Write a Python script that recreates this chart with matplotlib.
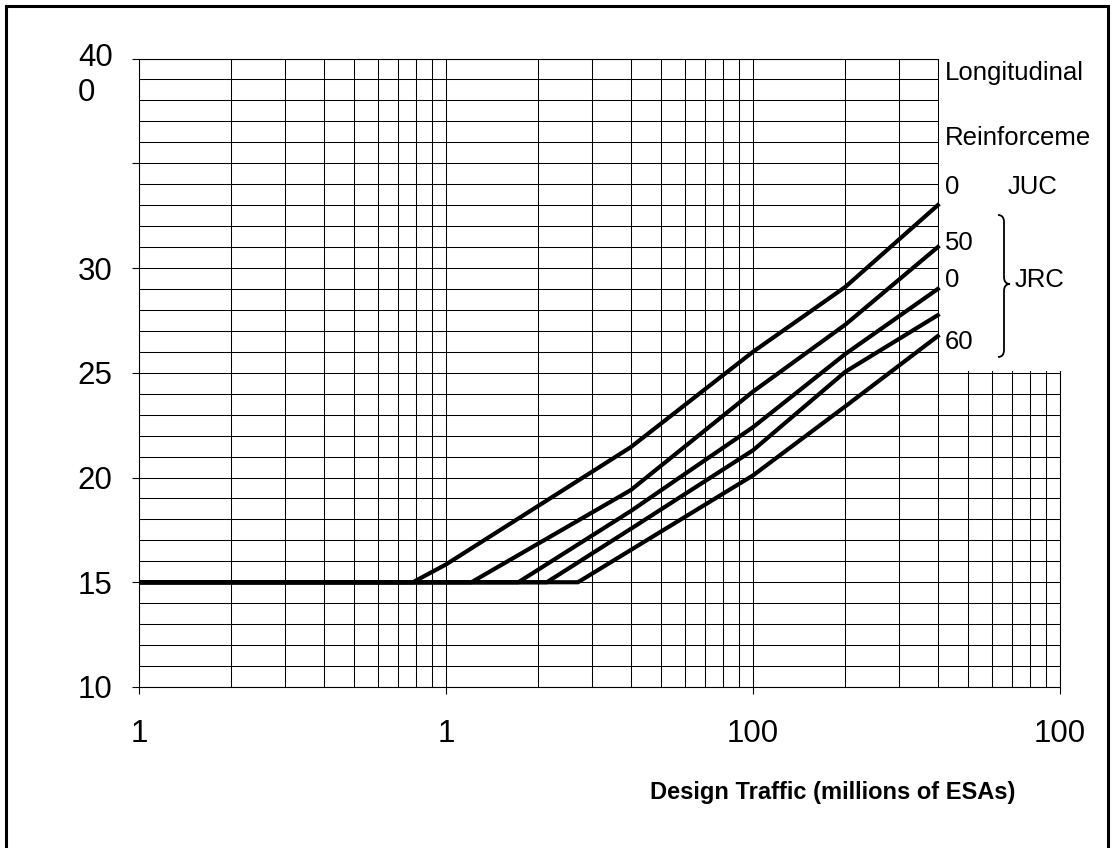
import matplotlib
matplotlib.use("Agg")
from matplotlib import pyplot as plt
from matplotlib.patches import Rectangle, PathPatch
from matplotlib.path import Path
from matplotlib.ticker import FixedLocator, MultipleLocator, NullFormatter
import matplotlib.transforms as mtransforms

plt.rcParams['font.family'] = ['Liberation Sans', 'DejaVu Sans']

# design traffic (millions of ESAs) vs base thickness, one curve per reinforcement
traffic_juc = [1, 7.8, 10, 40, 100, 200, 400]
thick_juc = [15, 15, 15.85, 21.45, 26.0, 29.1, 33.0]

traffic_50 = [1, 12.1, 40, 100, 200, 400]
thick_50 = [15, 15, 19.4, 24.1, 27.3, 31.0]

traffic_0 = [1, 17.2, 40, 100, 200, 400]
thick_0 = [15, 15, 18.4, 22.4, 25.9, 29.0]

traffic_x = [1, 21.3, 40, 100, 200, 400]
thick_x = [15, 15, 17.55, 21.3, 25.05, 27.75]

traffic_60 = [1, 26.9, 100, 200, 400]
thick_60 = [15, 15, 20.1, 23.4, 26.75]

xticks = [1, 10, 100, 1000]
xticklabels = ["1", "1", "100", "100"]
yticks = [10, 15, 20, 25, 30, 35, 40]
yticklabels = ["10", "15", "20", "25", "30", "", "40\n0"]

W, H = 1112, 848
fig = plt.figure(figsize=(W / 100, H / 100), dpi=100)
ax = fig.add_axes([139 / W, 1 - 687 / H, (1060 - 139) / W, (687 - 58.5) / H])

ax.set_xscale('log')
ax.set_xlim(1, 1000)
ax.set_ylim(10, 40)

ax.xaxis.set_major_locator(FixedLocator(xticks))
ax.set_xticklabels(xticklabels)
minors = [m * 10 ** k for k in range(3) for m in range(2, 10)]
ax.xaxis.set_minor_locator(FixedLocator(minors))
ax.xaxis.set_minor_formatter(NullFormatter())
ax.yaxis.set_major_locator(FixedLocator(yticks))
ax.set_yticklabels(yticklabels)
ax.yaxis.set_minor_locator(MultipleLocator(1))

ax.tick_params(which='major', direction='out', length=5, width=0.8, labelsize=22.5, color='black')
ax.tick_params(axis='x', which='major', pad=18)
ax.tick_params(axis='y', which='major', pad=14)
ax.tick_params(which='minor', length=0)

ax.grid(True, which='both', color='black', linewidth=0.75)
ax.set_axisbelow(True)
for s in ax.spines.values():
    s.set_linewidth(0.8)

# label 40 / 0 sits with its first line on the tick
lab40 = ax.get_yticklabels()[-1]
lab40.set_verticalalignment('top')
lab40.set_multialignment('left')
lab40.set_transform(lab40.get_transform() +
                    mtransforms.ScaledTranslation(0, 0.15, fig.dpi_scale_trans))

for tx, th in [(traffic_juc, thick_juc), (traffic_50, thick_50), (traffic_0, thick_0),
               (traffic_x, thick_x), (traffic_60, thick_60)]:
    ax.plot(tx, th, color='black', linewidth=3, zorder=4, solid_joinstyle='miter')

# white legend area in upper right
ax.add_patch(Rectangle((403, 25.06), 800, 20, facecolor='white', edgecolor='none',
                       zorder=3, clip_on=False))

tk = dict(fontsize=18.5, va='center', ha='left', zorder=5)
ax.text(422, 39.3, "Longitudinal", **tk)
ax.text(422, 36.2, "Reinforceme", **tk)
ax.text(422, 33.87, "0", **tk)
ax.text(677, 33.87, "JUC", **tk)
ax.text(422, 31.19, "50", **tk)
ax.text(422, 29.43, "0", **tk)
ax.text(713, 29.43, "JRC", **tk)
ax.text(422, 26.47, "60", **tk)

# curly brace for JRC group (figure pixel coords)
pts = [(998, 215), (1004, 215), (1004, 222), (1004, 277), (1004, 284), (1010, 284),
       (1004, 284), (1004, 291), (1004, 350), (1004, 357), (998, 357)]
codes = [Path.MOVETO, Path.CURVE3, Path.CURVE3, Path.LINETO, Path.CURVE3, Path.CURVE3,
         Path.CURVE3, Path.CURVE3, Path.LINETO, Path.CURVE3, Path.CURVE3]
verts = [(px / W, 1 - py / H) for px, py in pts]
fig.patches.append(PathPatch(Path(verts, codes), transform=fig.transFigure,
                             fill=False, edgecolor='black', linewidth=1.3))

fig.text(833 / W, 1 - 793 / H, "Design Traffic (millions of ESAs)", fontsize=17,
         fontweight='bold', ha='center', va='center')

# outer frame
fig.patches.append(Rectangle((5.5 / W, -0.1), (1108 - 5.5) / W, 1.1 - 6.5 / H,
                             transform=fig.transFigure, fill=False,
                             edgecolor='black', linewidth=2.2))

fig.savefig("out.png", dpi=100)
